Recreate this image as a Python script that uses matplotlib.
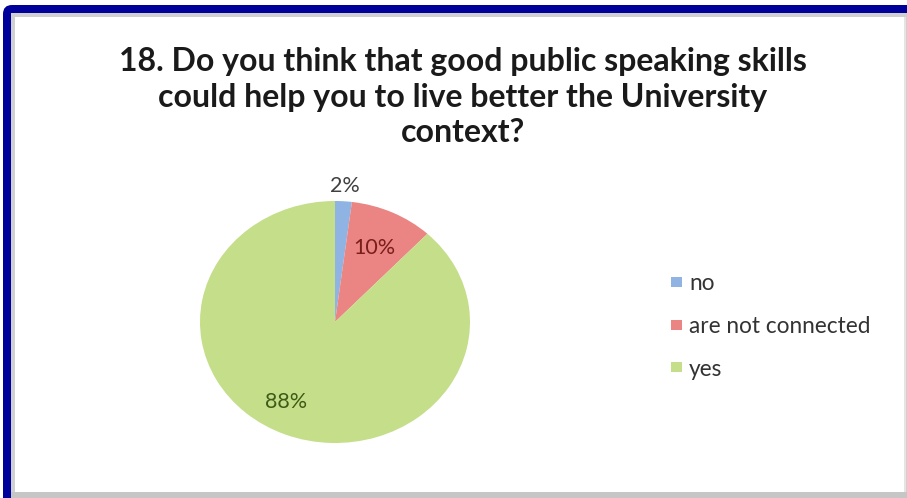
import numpy as np
import matplotlib.pyplot as plt
from matplotlib.patches import Rectangle, FancyBboxPatch
from matplotlib.transforms import IdentityTransform

# Survey answers, question 18
answers = ['no', 'are not connected', 'yes']
shares = [2, 10, 88]
wedge_colors = ['#8fb3e2', '#ea8583', '#c4de89']
label_colors = ['#404040', '#7a1e1c', '#3f5a16']
label_radius = [1.13, 0.68, 0.75]
label_turn = [0, 0, -7]   # degrees nudged off the wedge middle

title = ('18. Do you think that good public speaking skills\n'
         'could help you to live better the University\n'
         'context?')

W, H = 907, 498
fig = plt.figure(figsize=(W / 100, H / 100), dpi=100)
fig.patch.set_facecolor('white')
pix = IdentityTransform()


def box(x, y, w, h, color, z=-5):
    # x, y measured from the top-left corner, in pixels
    fig.add_artist(Rectangle((x, H - y - h), w, h, transform=pix,
                             facecolor=color, edgecolor='none', zorder=z))


def px(x, y, w, h):
    return (x / W, 1 - (y + h) / H, w / W, h / H)


# frame: dark blue rounded edge on top/left, grey shadow inside
fig.add_artist(FancyBboxPatch((3, -40), 950, H - 5 + 40, transform=pix,
                              boxstyle='round,pad=0,rounding_size=9',
                              facecolor='#00009a', edgecolor='none',
                              zorder=-10))
box(11, 13, 900, 490, '#d0d0d0')
box(15, 17, 889, 475, 'white')
box(904, 17, 1.5, 476, '#e4e4e4')
box(11, 492, 900, 6, '#c6c6c6')

fig.text(463 / W, 1 - 97 / H, title, ha='center', va='center',
         fontsize=23, fontweight='bold', family='Lato',
         color='#1a1a1a', linespacing=1.28)

# pie area: slightly wider than tall
ax = fig.add_axes(px(335 - 135, 322 - 121, 270, 242))
ax.set_zorder(2)
wedges, _ = ax.pie(shares, colors=wedge_colors, startangle=90,
                   counterclock=False, radius=1.0,
                   wedgeprops=dict(linewidth=0))
ax.set_aspect('auto')
ax.set_xlim(-1, 1)
ax.set_ylim(-1, 1)

start = 90.0
for val, r, turn, col in zip(shares, label_radius, label_turn, label_colors):
    mid = np.deg2rad(start - val * 3.6 / 2 + turn)
    start -= val * 3.6
    ax.text(r * np.cos(mid), r * np.sin(mid), f'{val}%', ha='center',
            va='center', fontsize=15.5, family='Lato', color=col)

for i, (name, col) in enumerate(zip(answers, wedge_colors)):
    y = 283 + i * 42.5
    box(671, y - 6, 11, 10, col, z=3)
    fig.text(689 / W, 1 - (y + 1) / H, name, ha='left', va='center',
             fontsize=16.3, family='Lato', color='#333333')

fig.savefig('out.png', dpi=100)
